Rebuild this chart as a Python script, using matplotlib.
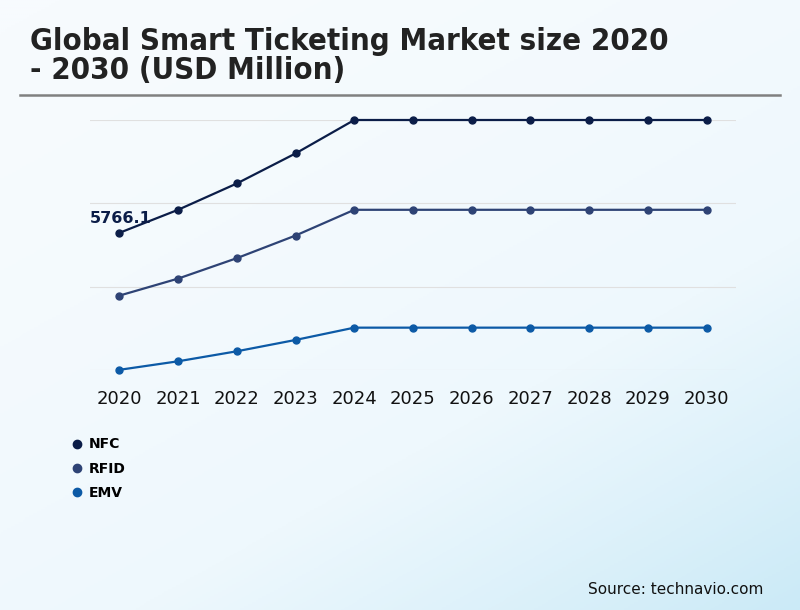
import numpy as np
import matplotlib.pyplot as plt
from matplotlib.colors import LinearSegmentedColormap

years = [2020, 2021, 2022, 2023, 2024, 2025, 2026, 2027, 2028, 2029, 2030]
nfc = [5766.1, 6733, 7837, 9097, 10500, 10500, 10500, 10500, 10500, 10500, 10500]
rfid = [3133, 3847, 4704, 5653, 6733, 6733, 6733, 6733, 6733, 6733, 6733]
emv = [20, 378, 798, 1273, 1789, 1789, 1789, 1789, 1789, 1789, 1789]
series_names = ["NFC", "RFID", "EMV"]
series_colors = ["#0b1d48", "#2e4375", "#0c5aa6"]

fig = plt.figure(figsize=(8, 6.1), dpi=100)

# background gradient
bg = fig.add_axes([0, 0, 1, 1], zorder=-10)
xx, yy = np.meshgrid(np.linspace(0, 1, 400), np.linspace(0, 1, 300))
grad = np.clip((xx * 0.55 + yy * 0.75) / 1.3, 0, 1) ** 1.6
cmap = LinearSegmentedColormap.from_list("bg", ["#f7fbfe", "#eef8fd", "#cbeaf7"])
bg.imshow(grad, cmap=cmap, aspect="auto", extent=[0, 1, 1, 0])
bg.axis("off")

# title and rule
fig.text(30 / 800, 1 - 56 / 610, "Global Smart Ticketing Market size 2020\n- 2030 (USD Million)",
         fontsize=22.3, fontweight="bold", fontstretch="condensed", color="#222222",
         va="center", ha="left", linespacing=1.0)
fig.add_artist(plt.Line2D([20 / 800, 780 / 800], [1 - 95 / 610, 1 - 95 / 610],
                          color="#808080", lw=1.8))

ax = fig.add_axes([90 / 800, 1 - 370.3 / 610, 646 / 800, 250.3 / 610])
ax.set_facecolor("none")
for vals, name, col in zip([nfc, rfid, emv], series_names, series_colors):
    ax.plot(years, vals, color=col, lw=1.6, marker="o", ms=5, clip_on=False, label=name, zorder=3)

ax.annotate(f"{nfc[0]}", (years[0], nfc[0]), xytext=(-21.5, 7), textcoords="offset points",
            fontsize=11.5, fontweight="bold", color="#0b1d48")

ax.set_xlim(2019.5, 2030.5)
ax.set_ylim(0, 10500)
ax.set_yticks([0, 3500, 7000, 10500])
ax.set_yticklabels([])
ax.grid(axis="y", color="#e0e0e0", lw=0.8)
ax.tick_params(axis="y", length=0)
ax.tick_params(axis="x", length=0, labelsize=13, pad=14, labelcolor="#111111")
ax.set_xticks(years)
for s in ax.spines.values():
    s.set_visible(False)

leg = fig.legend(loc="upper left", bbox_to_anchor=(60 / 800, 1 - 425 / 610), frameon=False,
                 prop={"weight": "bold", "size": 10}, handlelength=0.6, handletextpad=0.6,
                 labelspacing=0.75)
for h in leg.legend_handles:
    h.set_linestyle("none")
    h.set_markersize(6)

fig.text(763 / 800, 1 - 589 / 610, "Source: technavio.com", fontsize=11, ha="right",
         va="center", color="#111111")

fig.savefig("out.png", dpi=100)
